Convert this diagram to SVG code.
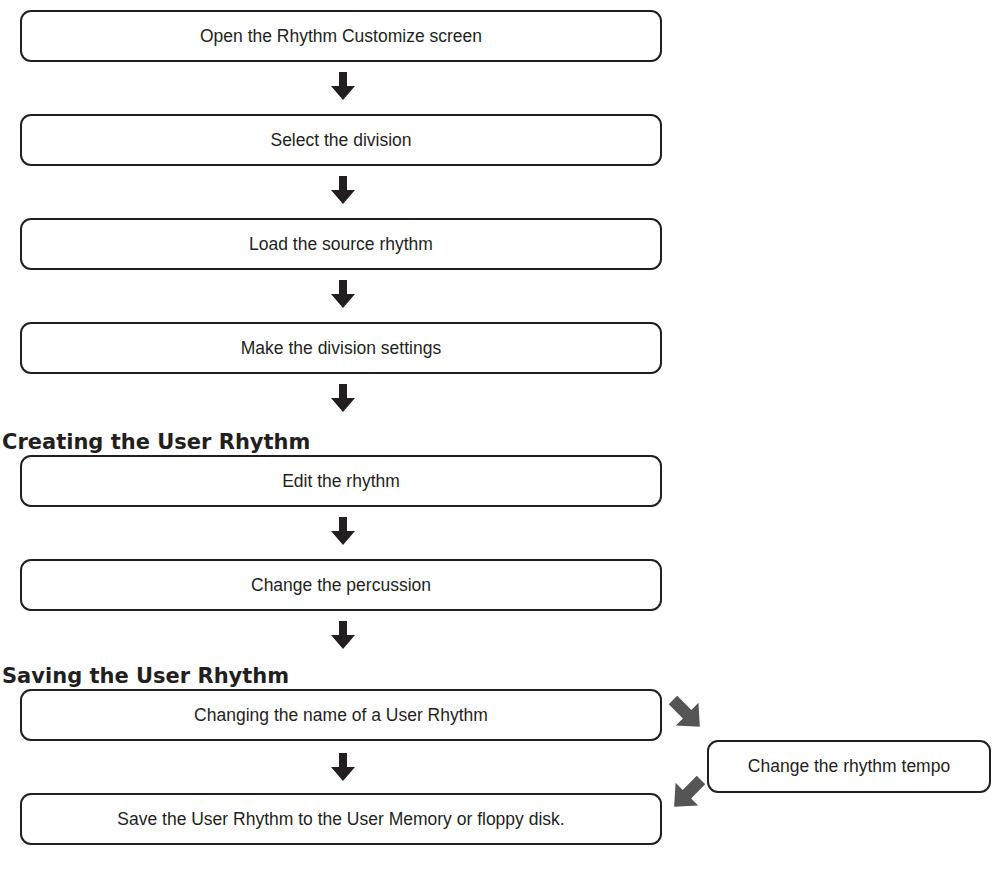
<svg xmlns="http://www.w3.org/2000/svg" width="992" height="884" viewBox="0 0 992 884">
<style>
.b{fill:#fff;stroke:#231f20;stroke-width:2}
.t{font-family:"Liberation Sans",Arial,sans-serif;font-size:17.5px;fill:#231f20;text-anchor:middle}
.h{font-family:"DejaVu Sans",sans-serif;font-weight:bold;font-size:21px;fill:#231f20}
</style>
<defs>
<path id="da" d="M-4,0 h8 v14 h8 l-12,14 l-12,-14 h8z" fill="#231f20"/>
<path id="ga" d="M-6,0 h12 v20 h10 l-16,18 l-16,-18 h10z" fill="#555"/>
</defs>
<g id="connectors">
<use href="#da" x="343" y="72"/>
<use href="#da" x="343" y="176"/>
<use href="#da" x="343" y="280"/>
<use href="#da" x="343" y="384"/>
<use href="#da" x="343" y="517"/>
<use href="#da" x="343" y="621"/>
<use href="#da" x="343" y="753"/>
<use href="#ga" transform="translate(673,700) rotate(-45)"/>
<use href="#ga" transform="translate(701,780) rotate(45)"/>
</g>
<g id="n1"><rect class="b" x="21" y="11" width="640" height="50" rx="10"/><text class="t" x="341" y="42">Open the Rhythm Customize screen</text></g>
<g id="n2"><rect class="b" x="21" y="115" width="640" height="50" rx="10"/><text class="t" x="341" y="146">Select the division</text></g>
<g id="n3"><rect class="b" x="21" y="219" width="640" height="50" rx="10"/><text class="t" x="341" y="250">Load the source rhythm</text></g>
<g id="n4"><rect class="b" x="21" y="323" width="640" height="50" rx="10"/><text class="t" x="341" y="354">Make the division settings</text></g>
<text class="h" x="2" y="449">Creating the User Rhythm</text>
<g id="n5"><rect class="b" x="21" y="456" width="640" height="50" rx="10"/><text class="t" x="341" y="487">Edit the rhythm</text></g>
<g id="n6"><rect class="b" x="21" y="560" width="640" height="50" rx="10"/><text class="t" x="341" y="591">Change the percussion</text></g>
<text class="h" x="2" y="683">Saving the User Rhythm</text>
<g id="n7"><rect class="b" x="21" y="690" width="640" height="50" rx="10"/><text class="t" x="341" y="721">Changing the name of a User Rhythm</text></g>
<g id="n8"><rect class="b" x="21" y="794" width="640" height="50" rx="10"/><text class="t" x="341" y="825">Save the User Rhythm to the User Memory or floppy disk.</text></g>
<g id="n9"><rect class="b" x="708" y="741" width="282" height="51" rx="10"/><text class="t" x="849" y="772">Change the rhythm tempo</text></g>
</svg>
